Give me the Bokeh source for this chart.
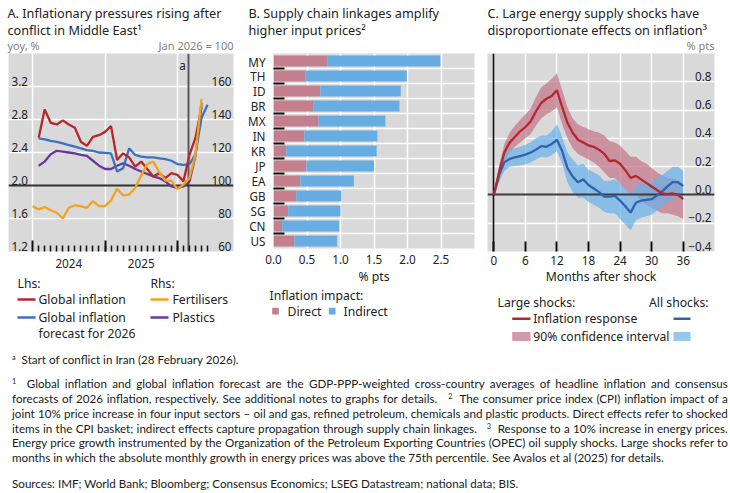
from bokeh.plotting import figure
from bokeh.models import (Range1d, LinearAxis, FixedTicker, Grid, Div, ColumnDataSource,
                          NumeralTickFormatter)
from bokeh.layouts import row, column
from bokeh.embed import file_html
from bokeh.resources import INLINE
from bokeh.core.properties import value

FONT = "Noto Sans"
BG = "#d9d9d9"
INK = "#222222"
MUTED = "#7f7f7f"

# ---------------- Panel A: monthly data, months counted from January 2024 ----------------
infl_months = list(range(1, 29))
global_inflation = [2.58, 2.92, 2.76, 2.74, 2.79, 2.74, 2.70, 2.53, 2.48, 2.59, 2.61, 2.65,
                    2.72, 2.31, 2.39, 2.34, 2.23, 2.29, 2.20, 2.11, 2.15, 2.09, 2.15, 2.13,
                    2.05, 2.37, 2.58, 2.95]
fcst_months = list(range(1, 30))
global_forecast = [2.57, 2.56, 2.54, 2.53, 2.51, 2.49, 2.47, 2.45, 2.43, 2.42, 2.40, 2.395,
                   2.39, 2.17, 2.21, 2.45, 2.37, 2.35, 2.34, 2.34, 2.33, 2.32, 2.30, 2.26,
                   2.25, 2.26, 2.38, 2.82, 2.98]
fert_months = list(range(0, 29))
fertilisers = [87.5, 85.5, 87.0, 85.0, 83.5, 80.0, 86.5, 88.0, 87.5, 86.5, 90.5, 87.5, 87.5,
               91.0, 98.0, 94.0, 94.5, 98.5, 106.0, 113.0, 114.5, 108.0, 103.0, 103.0, 97.8,
               100.5, 104.5, 119.0, 152.5]
plast_months = list(range(1, 29))
plastics = [112.0, 114.5, 119.0, 121.0, 120.5, 120.0, 119.5, 118.5, 118.0, 115.0, 112.0,
            110.0, 110.0, 112.0, 113.5, 112.0, 110.0, 108.5, 107.0, 105.5, 104.5, 102.5,
            99.5, 98.5, 99.5, 102.5, 118.0, 150.0]
conflict_month = 25.9          # 28 February 2026
year_ticks = [0, 12, 24]
month_ticks = list(range(1, 30))
year_labels = {6: "2024", 18: "2025"}
lhs_ticks = [1.2, 1.6, 2.0, 2.4, 2.8, 3.2]
rhs_ticks = [60, 80, 100, 120, 140, 160]

# ---------------- Panel B: CPI impact, % pts ----------------
countries = ["MY", "TH", "ID", "BR", "MX", "IN", "KR", "JP", "EA", "GB", "SG", "CN", "US"]
direct = [0.80, 0.48, 0.70, 0.60, 0.67, 0.46, 0.19, 0.49, 0.40, 0.34, 0.22, 0.13, 0.31]
indirect = [1.69, 1.51, 1.20, 1.28, 1.00, 1.09, 1.35, 1.01, 0.80, 0.67, 0.78, 0.85, 0.64]
b_ticks = [0.0, 0.5, 1.0, 1.5, 2.0, 2.5]

# ---------------- Panel C: impulse responses, % pts ----------------
months_after = list(range(0, 37))
large_resp = [0.00, 0.16, 0.30, 0.37, 0.41, 0.45, 0.48, 0.52, 0.59, 0.65, 0.68, 0.70, 0.74,
              0.62, 0.51, 0.44, 0.39, 0.37, 0.35, 0.34, 0.32, 0.29, 0.24, 0.245, 0.22, 0.175,
              0.12, 0.135, 0.11, 0.085, 0.06, 0.035, 0.01, 0.005, 0.01, 0.00, -0.03]
large_lo = [0.00, 0.10, 0.23, 0.30, 0.34, 0.37, 0.40, 0.43, 0.49, 0.54, 0.57, 0.59, 0.62,
            0.50, 0.40, 0.33, 0.29, 0.27, 0.25, 0.23, 0.20, 0.16, 0.12, 0.12, 0.08, 0.04,
            0.00, 0.00, -0.04, -0.07, -0.09, -0.11, -0.13, -0.13, -0.14, -0.15, -0.17]
large_hi = [0.00, 0.21, 0.36, 0.44, 0.49, 0.53, 0.57, 0.61, 0.69, 0.76, 0.79, 0.82, 0.86,
            0.74, 0.62, 0.54, 0.50, 0.48, 0.465, 0.45, 0.44, 0.42, 0.38, 0.37, 0.35, 0.31,
            0.27, 0.27, 0.24, 0.22, 0.19, 0.16, 0.14, 0.12, 0.12, 0.10, 0.08]
all_resp = [0.00, 0.14, 0.23, 0.255, 0.265, 0.275, 0.285, 0.30, 0.32, 0.345, 0.34, 0.36, 0.39,
            0.31, 0.19, 0.13, 0.09, 0.11, 0.07, 0.045, 0.02, -0.012, -0.012, -0.007, -0.04,
            -0.08, -0.125, -0.055, -0.04, -0.035, -0.03, -0.005, 0.025, 0.06, 0.09, 0.09, 0.064]
all_lo = [0.00, 0.09, 0.17, 0.20, 0.205, 0.21, 0.215, 0.23, 0.25, 0.27, 0.265, 0.28, 0.31,
          0.22, 0.09, 0.02, -0.02, -0.02, -0.05, -0.07, -0.09, -0.12, -0.13, -0.13, -0.17,
          -0.21, -0.25, -0.18, -0.16, -0.15, -0.14, -0.11, -0.08, -0.05, -0.02, -0.02, -0.04]
all_hi = [0.00, 0.19, 0.29, 0.32, 0.33, 0.34, 0.355, 0.37, 0.40, 0.42, 0.42, 0.45, 0.50,
          0.41, 0.30, 0.25, 0.21, 0.22, 0.18, 0.16, 0.14, 0.10, 0.10, 0.11, 0.08, 0.05,
          0.01, 0.07, 0.08, 0.09, 0.09, 0.12, 0.14, 0.17, 0.20, 0.20, 0.17]
c_xticks = [0, 6, 12, 18, 24, 30, 36]
c_yticks = [-0.4, -0.2, 0.0, 0.2, 0.4, 0.6, 0.8]

# ---------------- colours ----------------
RED = "#b3282d"
BLUE_A = "#3a72c0"
ORANGE = "#f2a31f"
PURPLE = "#69379a"
PINK_BAR = "#c47f8f"
BLUE_BAR = "#68ade1"
BLUE_C = "#2f63ad"
PINK_BAND = "#c47a8c"
BLUE_BAND = "#66b0ea"
TICK = "#111111"

TITLE_SIZE = "12.7px"
TEXT_SIZE = "12.2px"
TICK_SIZE = "11.7px"
UNIT_SIZE = "11px"


def chart_fig(width, height, x_range, y_range, left, right, bottom):
    p = figure(width=width, height=height, title=None, x_range=x_range, y_range=y_range,
               x_axis_type=None, y_axis_type=None, output_backend="svg",
               toolbar_location=None, min_border_left=left, min_border_right=right,
               min_border_top=0, min_border_bottom=bottom, frame_align=False)
    p.background_fill_color = BG
    p.border_fill_color = "white"
    p.outline_line_color = None
    return p


def text_fig(width, height):
    """Blank strip measured in pixels from its top-left corner, for headings and keys."""
    p = figure(width=width, height=height, title=None, x_range=Range1d(0, width),
               y_range=Range1d(height, 0), x_axis_type=None, y_axis_type=None,
               output_backend="svg", toolbar_location=None, min_border=0,
               frame_align=False)
    p.background_fill_color = "white"
    p.border_fill_color = "white"
    p.outline_line_color = None
    return p


def write(p, x, y, text, size=TEXT_SIZE, color=INK, align="left"):
    p.text(x=[x], y=[y], text=[text], text_align=align, text_baseline="middle",
           text_font=value(FONT), text_font_size=size, text_color=color)


def key_line(p, x0, x1, y, color):
    p.segment(x0=[x0], y0=[y], x1=[x1], y1=[y], line_color=color, line_width=2.6)


def key_box(p, x0, x1, y0, y1, color, alpha=1.0):
    p.quad(left=[x0], right=[x1], top=[y0], bottom=[y1], fill_color=color,
           fill_alpha=alpha, line_color=None)


def add_grid(p, dim, ticks):
    p.add_layout(Grid(dimension=dim, ticker=FixedTicker(ticks=ticks),
                      grid_line_color="white", grid_line_width=1.5))


def style_axis(ax):
    ax.major_label_text_font = FONT
    ax.major_label_text_font_size = TICK_SIZE
    ax.major_label_text_color = INK
    ax.axis_label_text_font = FONT
    ax.axis_label_text_font_size = TEXT_SIZE
    ax.axis_label_text_font_style = "normal"
    ax.axis_label_text_color = INK


# ======================= Panel A =======================
head_a = text_fig(245, 53)
write(head_a, 7, 12, "A. Inflationary pressures rising after", size=TITLE_SIZE)
write(head_a, 7, 29, "conflict in Middle East\u00b9", size=TITLE_SIZE)
write(head_a, 7, 45, "yoy, %", size=UNIT_SIZE, color=MUTED)
write(head_a, 233, 45, "Jan 2026 = 100", size=UNIT_SIZE, color=MUTED, align="right")

pa = chart_fig(245, 220, Range1d(-4, 33.3), Range1d(1.2, 3.6), 8, 12, 22)
pa.extra_y_ranges = {"rhs": Range1d(60, 180)}
add_grid(pa, 0, year_ticks)
add_grid(pa, 1, [t for t in lhs_ticks if t != 2.0] + [3.6])

pa.vspan(x=[conflict_month], line_color="#5a5a5a", line_width=2)
pa.hspan(y=[2.0], line_color="#333333", line_width=2.2)

pa.line(plast_months, plastics, color=PURPLE, line_width=2.3, y_range_name="rhs")
pa.line(fcst_months, global_forecast, color=BLUE_A, line_width=2.3)
pa.line(infl_months, global_inflation, color=RED, line_width=2.3)
pa.line(fert_months, fertilisers, color=ORANGE, line_width=2.3, y_range_name="rhs")

pa.text(x=[pa.x_range.start] * len(lhs_ticks), y=lhs_ticks,
        text=[f"{t:.1f}" for t in lhs_ticks], x_offset=3, y_offset=-1,
        text_align="left", text_baseline="bottom", text_font=value(FONT),
        text_font_size=TICK_SIZE, text_color=INK)
pa.text(x=[pa.x_range.end] * len(rhs_ticks), y=rhs_ticks,
        text=[str(t) for t in rhs_ticks], x_offset=-2, y_offset=-1,
        text_align="right", text_baseline="bottom", text_font=value(FONT),
        text_font_size=TICK_SIZE, text_color=INK, y_range_name="rhs")
pa.text(x=[conflict_month], y=[pa.y_range.end], text=["a"], x_offset=-3, y_offset=3,
        text_align="right", text_baseline="top", text_font=value(FONT),
        text_font_size=TICK_SIZE, text_color=INK)

# short monthly ticks sit on the frame edge, long year ticks and year names below them
month_axis = LinearAxis(ticker=FixedTicker(ticks=[], minor_ticks=month_ticks),
                        axis_line_color=None, major_tick_line_color=None,
                        minor_tick_in=6, minor_tick_out=0, minor_tick_line_color=TICK,
                        minor_tick_line_width=1.5, major_label_standoff=0)
pa.add_layout(month_axis, "below")
year_axis = LinearAxis(ticker=FixedTicker(ticks=list(year_labels), minor_ticks=year_ticks),
                       major_label_overrides=year_labels, axis_line_color=None,
                       major_tick_line_color=None, minor_tick_in=11, minor_tick_out=0,
                       minor_tick_line_color=TICK, minor_tick_line_width=2,
                       major_label_standoff=1)
style_axis(year_axis)
pa.add_layout(year_axis, "below")

leg_a = text_fig(245, 72)
write(leg_a, 17, 10, "Lhs:")
key_line(leg_a, 17, 35, 26, RED)
write(leg_a, 38, 26, "Global inflation")
key_line(leg_a, 17, 35, 44, BLUE_A)
write(leg_a, 38, 44, "Global inflation")
write(leg_a, 38, 60, "forecast for 2026")
write(leg_a, 150, 10, "Rhs:")
key_line(leg_a, 150, 168, 26, ORANGE)
write(leg_a, 172, 26, "Fertilisers")
key_line(leg_a, 150, 168, 44, PURPLE)
write(leg_a, 172, 44, "Plastics")

# ======================= Panel B =======================
head_b = text_fig(240, 53)
write(head_b, 3, 12, "B. Supply chain linkages amplify", size=TITLE_SIZE)
write(head_b, 3, 29, "higher input prices\u00b2", size=TITLE_SIZE)

n = len(countries)
pb = chart_fig(240, 234, Range1d(0, 3.0), Range1d(n - 0.5, -0.5), 22, 11, 36)
add_grid(pb, 0, [t for t in b_ticks if t > 0])
add_grid(pb, 1, [i + 0.5 for i in range(n - 1)])

src_b = ColumnDataSource(dict(pos=list(range(n)), direct=direct, indirect=indirect))
pb.hbar_stack(["direct", "indirect"], y="pos", height=0.72, color=[PINK_BAR, BLUE_BAR],
              line_color=None, source=src_b)

yax_b = LinearAxis(ticker=FixedTicker(ticks=list(range(n)),
                                      minor_ticks=[i + 0.5 for i in range(n - 1)]),
                   major_label_overrides={i: c for i, c in enumerate(countries)},
                   axis_line_color=None, major_tick_line_color=None,
                   minor_tick_in=11, minor_tick_out=0, minor_tick_line_color=TICK,
                   minor_tick_line_width=2, major_label_standoff=2)
style_axis(yax_b)
pb.add_layout(yax_b, "left")
xax_b = LinearAxis(ticker=FixedTicker(ticks=b_ticks), formatter=NumeralTickFormatter(format="0.0"),
                   axis_line_color=None, major_tick_line_color=None,
                   minor_tick_line_color=None, major_label_standoff=0,
                   axis_label="% pts", axis_label_standoff=1)
style_axis(xax_b)
pb.add_layout(xax_b, "below")

leg_b = text_fig(240, 58)
write(leg_b, 24, 8, "Inflation impact:")
key_box(leg_b, 26.7, 33.3, 20.3, 27, PINK_BAR)
write(leg_b, 42, 23.7, "Direct")
key_box(leg_b, 83.3, 90, 20.3, 27, BLUE_BAR)
write(leg_b, 98, 23.7, "Indirect")

# ======================= Panel C =======================
head_c = text_fig(245, 53)
write(head_c, 2, 12, "C. Large energy supply shocks have", size=TITLE_SIZE)
write(head_c, 2, 29, "disproportionate effects on inflation\u00b3", size=TITLE_SIZE)
write(head_c, 229, 45, "% pts", size=UNIT_SIZE, color=MUTED, align="right")

pc = chart_fig(245, 236, Range1d(-1.2, 41.95), Range1d(-0.4, 1.0), 2, 16, 38)
add_grid(pc, 0, [t for t in c_xticks if t > 0])
add_grid(pc, 1, [t for t in c_yticks if t not in (0.0, -0.4)])

pc.varea(x=months_after, y1=large_lo, y2=large_hi, fill_color=PINK_BAND, fill_alpha=0.75)
pc.varea(x=months_after, y1=all_lo, y2=all_hi, fill_color=BLUE_BAND, fill_alpha=0.7)
pc.hspan(y=[0.0], line_color="#3c3c3c", line_width=1.8)
pc.vspan(x=[0.0], line_color="#111111", line_width=1.6)
pc.line(months_after, all_resp, color=BLUE_C, line_width=2.3)
pc.line(months_after, large_resp, color=RED, line_width=2.3)

c_labels = [f"{t:.1f}".replace("-", "\u2212") for t in c_yticks]
pc.text(x=[pc.x_range.end] * len(c_yticks), y=c_yticks, text=c_labels, x_offset=-3,
        y_offset=-1, text_align="right", text_baseline="bottom", text_font=value(FONT),
        text_font_size=TICK_SIZE, text_color=INK)

xax_c = LinearAxis(ticker=FixedTicker(ticks=c_xticks), axis_line_color=None,
                   major_tick_in=10, major_tick_out=0, major_tick_line_color=TICK,
                   major_tick_line_width=2, minor_tick_line_color=None,
                   major_label_standoff=4, axis_label="Months after shock",
                   axis_label_standoff=0)
style_axis(xax_c)
pc.add_layout(xax_c, "below")

leg_c = text_fig(245, 56)
write(leg_c, 12, 12.7, "Large shocks:")
write(leg_c, 223, 12.7, "All shocks:", align="right")
key_line(leg_c, 26.7, 45, 29.3, RED)
write(leg_c, 47.7, 29.3, "Inflation response")
key_line(leg_c, 188, 205, 29.3, BLUE_C)
key_box(leg_c, 26.7, 45, 42.5, 51.5, PINK_BAND, 0.75)
write(leg_c, 47.7, 47, "90% confidence interval")
key_box(leg_c, 188, 205, 42.5, 51.5, BLUE_BAND, 0.7)

# ======================= Notes =======================
SCALE = 0.97
LINE_W = round(716 / SCALE)


def note_line(top, html, justify=True):
    align = "text-align:justify;text-align-last:justify;" if justify else "text-align:left;"
    return (f'<div style="position:absolute;left:7px;top:{top}px;width:{LINE_W}px;'
            f'transform:scaleX({SCALE});transform-origin:0 0;{align}">{html}</div>')


SUP = '<sup style="font-size:7.5px;vertical-align:4px;line-height:0">'
gap = "&nbsp;&nbsp;&nbsp;"
notes = "".join([
    note_line(2.5, f"{SUP}a</sup>&nbsp; Start of conflict in Iran (28 February 2026).", False),
    note_line(26.8, f"{SUP}1</sup>&nbsp; Global inflation and global inflation forecast are the "
                    "GDP-PPP-weighted cross-country averages of headline inflation and consensus"),
    note_line(41.7, "forecasts of 2026 inflation, respectively. See additional notes to graphs for "
                    f"details.{gap}{SUP}2</sup>&nbsp; The consumer price index (CPI) inflation impact of a"),
    note_line(56.6, "joint 10% price increase in four input sectors \u2013 oil and gas, refined "
                    "petroleum, chemicals and plastic products. Direct effects refer to shocked"),
    note_line(71.5, "items in the CPI basket; indirect effects capture propagation through supply "
                    f"chain linkages.{gap}{SUP}3</sup>&nbsp; Response to a 10% increase in energy prices."),
    note_line(86.4, "Energy price growth instrumented by the Organization of the Petroleum Exporting "
                    "Countries (OPEC) oil supply shocks. Large shocks refer to"),
    note_line(101.3, "months in which the absolute monthly growth in energy prices was above the "
                     "75th percentile. See Avalos et al (2025) for details.", False),
    note_line(126.5, "Sources: IMF; World Bank; Bloomberg; Consensus Economics; LSEG Datastream; "
                     "national data; BIS.", False),
])
notes_html = ('<div style="position:relative;width:730px;height:148px;overflow:hidden;'
              "font-family:'Lato',sans-serif;"
              'font-size:12px;line-height:14px;color:#1a1a1a;">' + notes + '</div>')
div = Div(text=notes_html, width=730, height=148)

layout = column(
    row(column(head_a, pa, leg_a), column(head_b, pb, leg_b), column(head_c, pc, leg_c)),
    div,
)
open("out.html", "w").write(file_html(layout, INLINE))
